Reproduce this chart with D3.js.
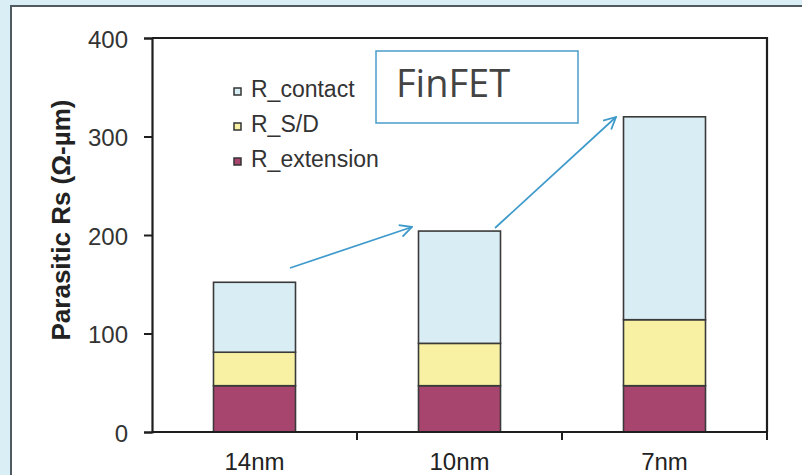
<!DOCTYPE html>
<html><head><meta charset="utf-8">
<script src="https://cdn.jsdelivr.net/npm/d3@7"></script>
<style>
html,body{margin:0;padding:0;background:#d9eef5;}
svg{display:block;}
</style></head>
<body>
<svg id="chart" width="802" height="475"></svg>
<script>
const categories = ["14nm", "10nm", "7nm"];
const rExtension = [47, 47, 47];
const rSD = [34, 43, 67];
const rContact = [71, 114, 206];
const seriesNames = ["R_extension", "R_S/D", "R_contact"];
const legendOrder = ["R_contact", "R_S/D", "R_extension"];
const colors = {"R_extension": "#a8456f", "R_S/D": "#f8f0a2", "R_contact": "#d9edf4"};
const yTicks = [0, 100, 200, 300, 400];
const yTitle = "Parasitic Rs (\u03A9-\u00B5m)";
const annotation = "FinFET";

(function () {
const rows = categories.map((c, i) => ({cat: c, "R_extension": rExtension[i], "R_S/D": rSD[i], "R_contact": rContact[i]}));

const svg = d3.select("#chart");
svg.append("rect").attr("x", 11).attr("y", 6).attr("width", 820).attr("height", 500)
  .attr("fill", "#ffffff").attr("stroke", "#4f5b61").attr("stroke-width", 2);

const pL = 152, pR = 767, pT = 38, pB = 432;
const x = d3.scaleBand().domain(categories).range([pL, pR]).paddingInner(0.6).paddingOuter(0.3);
const y = d3.scaleLinear().domain([0, 400]).range([pB, pT]);

const stack = d3.stack().keys(seriesNames)(rows);

const g = svg.append("g");
stack.forEach(s => {
  g.selectAll(null).data(s).enter().append("rect")
    .attr("x", d => x(d.data.cat))
    .attr("width", x.bandwidth())
    .attr("y", d => y(d[1]))
    .attr("height", d => y(d[0]) - y(d[1]))
    .attr("fill", colors[s.key])
    .attr("stroke", "#3a3a3a").attr("stroke-width", 1.6);
});

svg.append("path").attr("d", `M${pL},${pT}H${pR}V${pB}`)
  .attr("fill", "none").attr("stroke", "#1e1e1e").attr("stroke-width", 2.2);

const yAxis = svg.append("g").attr("transform", `translate(${pL},0)`)
  .call(d3.axisLeft(y).tickValues(yTicks).tickSize(8).tickPadding(16));
yAxis.select(".domain").attr("stroke", "#1e1e1e").attr("stroke-width", 2.2);
yAxis.selectAll(".tick line").attr("stroke", "#1e1e1e").attr("stroke-width", 2);
yAxis.selectAll("text").attr("font-family", "Liberation Sans, Arial, sans-serif")
  .attr("font-size", 24).attr("fill", "#333").attr("dy", "0.38em");

const xBound = d3.scaleLinear().domain([0, 3]).range([pL, pR]);
const xAxis = svg.append("g").attr("transform", `translate(0,${pB})`);
xAxis.append("line").attr("x1", pL).attr("x2", pR).attr("stroke", "#1e1e1e").attr("stroke-width", 2.2);
[1, 2, 3].forEach(k => {
  xAxis.append("line").attr("x1", xBound(k)).attr("x2", xBound(k)).attr("y1", 0).attr("y2", 8)
    .attr("stroke", "#1e1e1e").attr("stroke-width", 2);
});
categories.forEach(c => {
  xAxis.append("text").attr("x", x(c) + x.bandwidth() / 2).attr("y", 38)
    .attr("text-anchor", "middle").attr("font-family", "Liberation Sans, Arial, sans-serif")
    .attr("font-size", 24).attr("fill", "#222").text(c);
});

svg.append("text").attr("transform", `translate(70,220) rotate(-90)`)
  .attr("text-anchor", "middle").attr("font-family", "Liberation Sans, Arial, sans-serif")
  .attr("font-weight", "bold").attr("font-size", 26).attr("fill", "#222").text(yTitle);

legendOrder.forEach((name, i) => {
  const ly = 97 + i * 35;
  svg.append("rect").attr("x", 234).attr("y", ly - 9).attr("width", 7).attr("height", 7)
    .attr("fill", colors[name]).attr("stroke", "#333").attr("stroke-width", 1.5);
  svg.append("text").attr("x", 251).attr("y", ly)
    .attr("font-family", "Liberation Sans, Arial, sans-serif")
    .attr("font-size", 23).attr("fill", "#333").text(name);
});

svg.append("rect").attr("x", 376).attr("y", 51).attr("width", 202).attr("height", 72)
  .attr("fill", "#fff").attr("stroke", "#4a9ccb").attr("stroke-width", 1.5);
svg.append("text").attr("x", 396).attr("y", 97)
  .attr("font-family", "Open Sans, Liberation Sans, sans-serif").attr("font-size", 38)
  .attr("fill", "#444").text(annotation);

const defs = svg.append("defs");
defs.append("marker").attr("id", "ah").attr("viewBox", "0 0 14 14").attr("refX", 13).attr("refY", 7)
  .attr("markerWidth", 14).attr("markerHeight", 14).attr("markerUnits", "userSpaceOnUse").attr("orient", "auto")
  .append("path").attr("d", "M1,1L13,7L1,13").attr("fill", "none").attr("stroke", "#3e9acb").attr("stroke-width", 1.8);
const arrows = [[290, 268, 412, 227], [495, 228, 616, 117]];
arrows.forEach(a => {
  svg.append("line").attr("x1", a[0]).attr("y1", a[1]).attr("x2", a[2]).attr("y2", a[3])
    .attr("stroke", "#3e9acb").attr("stroke-width", 1.7).attr("marker-end", "url(#ah)");
});
})();
</script>
</body></html>
